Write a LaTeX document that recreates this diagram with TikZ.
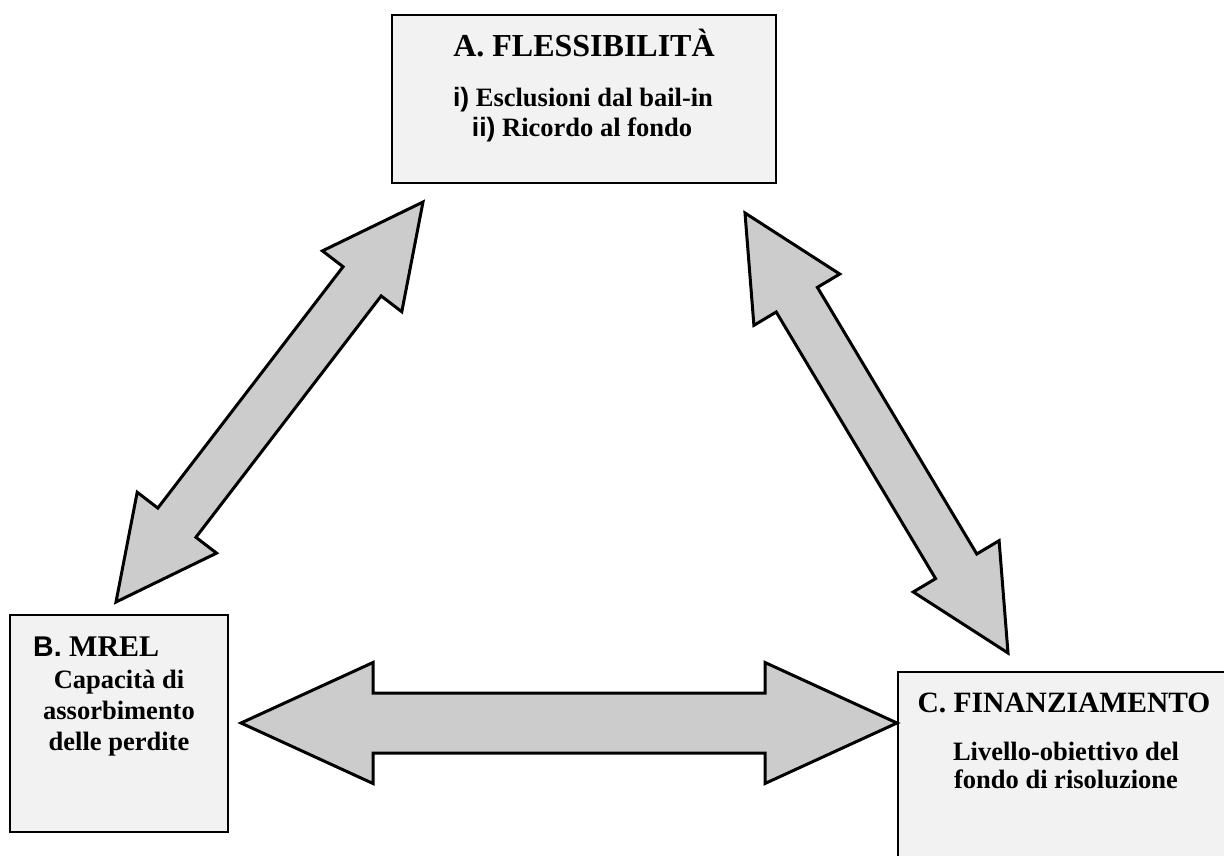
\documentclass[tikz,border=0pt]{standalone}
\usepackage{fontspec}
\setmainfont{Liberation Serif}
\setsansfont{Liberation Sans}
\usetikzlibrary{calc}
\definecolor{boxfill}{gray}{0.95}
\definecolor{arrfill}{gray}{0.8}
% #1,#2 tips; #3 head length; #4 half head width; #5 half shaft width
\newcommand\myblockarrow[5]{%
  \path ($(#1)!#3!(#2)$) coordinate (hA) ($(#2)!#3!(#1)$) coordinate (hB);
  \draw[arrowshape] (#1)
    -- ($(hA)!#4!90:(#2)$) -- ($(hA)!#5!90:(#2)$)
    -- ($(hB)!#5!-90:(#1)$) -- ($(hB)!#4!-90:(#1)$)
    -- (#2)
    -- ($(hB)!#4!90:(#1)$) -- ($(hB)!#5!90:(#1)$)
    -- ($(hA)!#5!-90:(#2)$) -- ($(hA)!#4!-90:(#2)$)
    -- cycle;}
\begin{document}
\begin{tikzpicture}[x=1pt,y=-1pt,
  box/.style={draw=black, line width=2.3pt, fill=boxfill, inner sep=0pt,
    outer sep=0pt, anchor=north west},
  arrowshape/.style={draw=black, line width=3pt, fill=arrfill, line join=miter},
  lbl/.style={inner sep=0pt, anchor=base},
  titleA/.style={lbl, font=\fontsize{32}{38}\selectfont\bfseries},
  titleB/.style={lbl, font=\fontsize{29.5}{35}\selectfont\bfseries},
  body/.style={lbl, font=\fontsize{26.5}{31}\selectfont\bfseries}]
\useasboundingbox (0,0) rectangle (1224,856);
\clip (0,0) rectangle (1224,856);
\fill[white] (0,0) rectangle (1224,856);
% boxes
\node[box, minimum width=384pt, minimum height=168pt] (A) at (392,15) {};
\node[box, minimum width=218pt, minimum height=217pt] (B) at (10,615) {};
\node[box, minimum width=334pt, minimum height=230pt] (C) at (898,672) {};
% texts in A
\node[titleA] (Atitle) at (584,57) {A. FLESSIBILITÀ};
\node[body] (Aone) at (583,107) {{\sffamily i)} Esclusioni dal bail-in};
\node[body] (Atwo) at (582,137) {{\sffamily ii)} Ricordo al fondo};
% texts in B
\node[lbl, anchor=base west, font=\bfseries] (Btitle) at (33,656)
  {{\sffamily\fontsize{28.5}{34}\selectfont B.}\fontsize{30}{36}\selectfont{} MREL};
\node[body] (Bone) at (119,688) {Capacità di};
\node[body] (Btwo) at (119,719) {assorbimento};
\node[body] (Bthree) at (119,750) {delle perdite};
% texts in C
\node[titleB] (Ctitle) at (1064,712) {C. FINANZIAMENTO};
\node[body] (Cone) at (1066,760) {Livello-obiettivo del};
\node[body] (Ctwo) at (1066,788) {fondo di risoluzione};
% arrows
\coordinate (L1) at (423,202);
\coordinate (L2) at (116,602);
\coordinate (R1) at (745,213);
\coordinate (R2) at (1008,653);
\coordinate (H1) at (241,723);
\coordinate (H2) at (897,723);
\myblockarrow{L1}{L2}{100pt}{50pt}{24pt}
\myblockarrow{R1}{R2}{101pt}{50pt}{24pt}
\myblockarrow{H1}{H2}{132pt}{60.5pt}{30pt}
\end{tikzpicture}
\end{document}
